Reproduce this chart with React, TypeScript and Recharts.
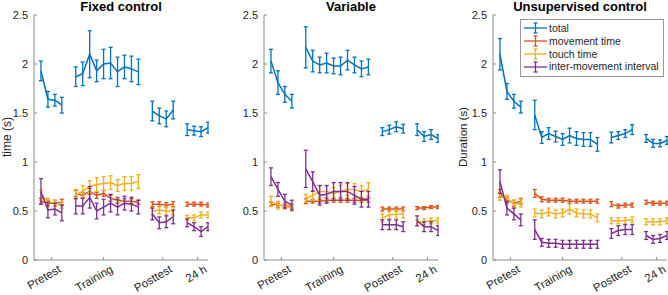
import { LineChart, Line, XAxis, YAxis, ErrorBar, Legend } from 'recharts';

// session positions on the x axis; the skipped slots (5, 16, 21) split the phases
const sessions = [1, 2, 3, 4, 6, 7, 8, 9, 10, 11, 12, 13, 14, 15, 17, 18, 19, 20, 22, 23, 24, 25];
const phaseTicks = [2.5, 10, 18.5, 23.5];
const phaseLabels = ['Pretest', 'Training', 'Posttest', '24 h'];
const yTicks = [0, 0.5, 1, 1.5, 2, 2.5];

const seriesNames = ['total', 'movement time', 'touch time', 'inter-movement interval'];
const seriesColors = ['#0072BD', '#D95319', '#EDB120', '#7E2F8E'];

// Fixed control
const fixedTotal = [1.93, 1.64, 1.63, 1.58, 1.87, 1.9, 2.1, 1.93, 2.0, 2.01, 1.92, 1.97, 1.95, 1.92, 1.52, 1.47, 1.44, 1.53, 1.33, 1.32, 1.31, 1.35];
const fixedTotalErr = [0.1, 0.08, 0.06, 0.08, 0.1, 0.12, 0.24, 0.11, 0.15, 0.16, 0.15, 0.12, 0.13, 0.13, 0.1, 0.08, 0.08, 0.09, 0.06, 0.045, 0.05, 0.055];
const fixedMove = [0.6, 0.58, 0.58, 0.59, 0.68, 0.66, 0.7, 0.66, 0.68, 0.63, 0.61, 0.6, 0.6, 0.59, 0.57, 0.57, 0.56, 0.57, 0.57, 0.57, 0.57, 0.56];
const fixedMoveErr = [0.03, 0.03, 0.03, 0.03, 0.03, 0.03, 0.03, 0.03, 0.03, 0.03, 0.03, 0.025, 0.025, 0.02, 0.025, 0.025, 0.025, 0.025, 0.02, 0.02, 0.02, 0.02];
const fixedTouch = [0.66, 0.6, 0.58, 0.56, 0.67, 0.7, 0.75, 0.77, 0.78, 0.79, 0.76, 0.78, 0.78, 0.8, 0.5, 0.51, 0.5, 0.5, 0.43, 0.43, 0.46, 0.46];
const fixedTouchErr = [0.05, 0.03, 0.03, 0.03, 0.05, 0.06, 0.06, 0.07, 0.07, 0.07, 0.06, 0.07, 0.07, 0.07, 0.04, 0.04, 0.04, 0.04, 0.025, 0.03, 0.03, 0.03];
const fixedImi = [0.7, 0.51, 0.52, 0.48, 0.55, 0.55, 0.64, 0.5, 0.54, 0.58, 0.54, 0.58, 0.57, 0.54, 0.47, 0.38, 0.39, 0.44, 0.38, 0.34, 0.29, 0.34];
const fixedImiErr = [0.13, 0.08, 0.06, 0.08, 0.08, 0.08, 0.11, 0.08, 0.08, 0.09, 0.08, 0.07, 0.07, 0.07, 0.06, 0.06, 0.06, 0.07, 0.04, 0.04, 0.05, 0.04];

// Variable
const varTotal = [2.03, 1.81, 1.69, 1.62, 2.17, 2.03, 1.99, 2.01, 1.98, 1.98, 2.04, 1.99, 1.95, 1.97, 1.31, 1.33, 1.36, 1.34, 1.33, 1.26, 1.28, 1.24];
const varTotalErr = [0.12, 0.12, 0.08, 0.07, 0.21, 0.11, 0.08, 0.1, 0.08, 0.09, 0.1, 0.08, 0.08, 0.08, 0.04, 0.045, 0.05, 0.045, 0.06, 0.05, 0.05, 0.04];
const varMove = [0.57, 0.56, 0.55, 0.55, 0.6, 0.6, 0.6, 0.61, 0.61, 0.61, 0.61, 0.61, 0.61, 0.61, 0.52, 0.52, 0.52, 0.52, 0.53, 0.53, 0.54, 0.54];
const varMoveErr = [0.02, 0.02, 0.02, 0.02, 0.025, 0.02, 0.02, 0.02, 0.02, 0.02, 0.02, 0.02, 0.02, 0.02, 0.02, 0.02, 0.02, 0.02, 0.015, 0.015, 0.015, 0.015];
const varTouch = [0.6, 0.56, 0.55, 0.53, 0.63, 0.66, 0.7, 0.7, 0.68, 0.7, 0.72, 0.72, 0.7, 0.72, 0.43, 0.46, 0.47, 0.47, 0.38, 0.39, 0.4, 0.4];
const varTouchErr = [0.05, 0.04, 0.03, 0.03, 0.04, 0.05, 0.06, 0.06, 0.06, 0.06, 0.06, 0.06, 0.06, 0.07, 0.04, 0.04, 0.04, 0.04, 0.03, 0.03, 0.03, 0.03];
const varImi = [0.85, 0.72, 0.6, 0.56, 0.93, 0.8, 0.66, 0.67, 0.7, 0.7, 0.7, 0.66, 0.62, 0.62, 0.36, 0.36, 0.36, 0.34, 0.4, 0.34, 0.34, 0.3];
const varImiErr = [0.09, 0.07, 0.07, 0.05, 0.19, 0.1, 0.1, 0.09, 0.09, 0.09, 0.09, 0.09, 0.08, 0.08, 0.05, 0.05, 0.05, 0.05, 0.05, 0.05, 0.05, 0.05];

// Unsupervised control
const unsTotal = [2.1, 1.72, 1.62, 1.56, 1.48, 1.25, 1.29, 1.26, 1.23, 1.27, 1.24, 1.23, 1.23, 1.18, 1.25, 1.27, 1.29, 1.33, 1.24, 1.19, 1.19, 1.22];
const unsTotalErr = [0.16, 0.08, 0.07, 0.06, 0.15, 0.06, 0.06, 0.055, 0.06, 0.075, 0.07, 0.07, 0.07, 0.07, 0.055, 0.04, 0.04, 0.05, 0.04, 0.04, 0.035, 0.04];
const unsMove = [0.68, 0.61, 0.58, 0.6, 0.68, 0.62, 0.61, 0.61, 0.61, 0.6, 0.6, 0.6, 0.6, 0.6, 0.57, 0.55, 0.56, 0.56, 0.59, 0.58, 0.58, 0.58];
const unsMoveErr = [0.04, 0.03, 0.03, 0.03, 0.04, 0.025, 0.02, 0.02, 0.02, 0.02, 0.02, 0.02, 0.02, 0.02, 0.025, 0.02, 0.02, 0.02, 0.02, 0.02, 0.02, 0.02];
const unsTouch = [0.65, 0.63, 0.57, 0.58, 0.48, 0.47, 0.49, 0.47, 0.48, 0.52, 0.48, 0.47, 0.47, 0.43, 0.4, 0.4, 0.4, 0.41, 0.39, 0.39, 0.39, 0.4];
const unsTouchErr = [0.04, 0.03, 0.04, 0.04, 0.04, 0.04, 0.04, 0.04, 0.04, 0.05, 0.04, 0.04, 0.04, 0.04, 0.03, 0.03, 0.03, 0.03, 0.03, 0.03, 0.03, 0.03];
const unsImi = [0.8, 0.53, 0.47, 0.41, 0.31, 0.18, 0.17, 0.17, 0.16, 0.16, 0.16, 0.16, 0.16, 0.16, 0.27, 0.3, 0.31, 0.31, 0.25, 0.21, 0.22, 0.25];
const unsImiErr = [0.12, 0.07, 0.06, 0.06, 0.1, 0.04, 0.04, 0.04, 0.04, 0.04, 0.04, 0.04, 0.04, 0.04, 0.05, 0.05, 0.05, 0.05, 0.04, 0.04, 0.04, 0.04];

const FONT = '"Liberation Sans", Arial, sans-serif';
const AXIS = '#8c8c8c';

function buildRows(means: number[][], errs: number[][]) {
  const rows = [];
  for (let x = 1; x <= 25; x++) {
    const i = sessions.indexOf(x);
    const row: Record<string, number | null> = { x };
    means.forEach((m, k) => {
      row['m' + k] = i < 0 ? null : m[i];
      row['e' + k] = i < 0 ? null : errs[k][i];
    });
    rows.push(row);
  }
  return rows;
}

function PhaseTick({ x, y, payload }: any) {
  const label = phaseLabels[phaseTicks.indexOf(payload.value)];
  return (
    <text
      x={x + 6}
      y={y}
      dy="0.75em"
      textAnchor="end"
      transform={`rotate(-30 ${x + 6} ${y})`}
      fontSize={11.5}
      fill="#262626"
      fontFamily={FONT}
    >
      {label}
    </text>
  );
}

function LegendBox() {
  return (
    <div
      style={{
        border: '1px solid #9a9a9a',
        background: '#fff',
        width: 137,
        padding: '2px 2px 3px 3px',
        fontFamily: FONT,
        fontSize: 10.5,
        color: '#262626',
        lineHeight: '12.8px',
      }}
    >
      {seriesNames.map((name, i) => (
        <div key={name} style={{ display: 'flex', alignItems: 'center', height: 12.8 }}>
          <svg width={24} height={12} style={{ flex: 'none' }}>
            <g stroke={seriesColors[i]} strokeWidth={1.3}>
              <line x1={0} x2={23} y1={6} y2={6} />
              <line x1={11.5} x2={11.5} y1={1} y2={11} />
              <line x1={9.5} x2={13.5} y1={1} y2={1} />
              <line x1={9.5} x2={13.5} y1={11} y2={11} />
            </g>
          </svg>
          <span style={{ marginLeft: 1, whiteSpace: 'nowrap' }}>{name}</span>
        </div>
      ))}
    </div>
  );
}

interface PanelProps {
  plotLeft: number;
  means: number[][];
  errs: number[][];
  legend?: boolean;
}

function Panel({ plotLeft, means, errs, legend }: PanelProps) {
  const rows = buildRows(means, errs);
  return (
    <div style={{ position: 'absolute', left: plotLeft - 34, top: 0 }}>
      <LineChart width={209} height={295} data={rows} margin={{ top: 15, right: 1, bottom: 5, left: 0 }}>
        <XAxis
          dataKey="x"
          type="number"
          domain={[0, 25]}
          ticks={phaseTicks}
          interval={0}
          height={30}
          tickSize={-3}
          tickMargin={7}
          tick={<PhaseTick />}
          stroke={AXIS}
        />
        <YAxis
          type="number"
          domain={[0, 2.5]}
          ticks={yTicks}
          interval={0}
          width={34}
          tickSize={-3}
          tickMargin={9}
          stroke={AXIS}
          tick={{ fill: '#262626', fontSize: 11, fontFamily: FONT }}
        />
        {means.map((_, k) => (
          <Line
            key={k}
            dataKey={'m' + k}
            type="linear"
            stroke={seriesColors[k]}
            strokeWidth={1.5}
            dot={false}
            activeDot={false}
            isAnimationActive={false}
          >
            <ErrorBar dataKey={'e' + k} width={2} stroke={seriesColors[k]} strokeWidth={1.3} direction="y" />
          </Line>
        ))}
        {legend && (
          <Legend
            layout="vertical"
            align="center"
            verticalAlign="middle"
            content={<LegendBox />}
            wrapperStyle={{ left: 520 - (plotLeft - 34), top: 19, width: 143 }}
          />
        )}
      </LineChart>
    </div>
  );
}

const panelLefts = [34, 264, 493];
const panelTitles = ['Fixed control', 'Variable', 'Unsupervised control'];

export default function App() {
  return (
    <div style={{ position: 'absolute', left: 0, top: 0, width: 668, height: 295, overflow: 'hidden', background: '#fff' }}>
      <Panel
        plotLeft={panelLefts[0]}
        means={[fixedTotal, fixedMove, fixedTouch, fixedImi]}
        errs={[fixedTotalErr, fixedMoveErr, fixedTouchErr, fixedImiErr]}
      />
      <Panel
        plotLeft={panelLefts[1]}
        means={[varTotal, varMove, varTouch, varImi]}
        errs={[varTotalErr, varMoveErr, varTouchErr, varImiErr]}
      />
      <Panel
        plotLeft={panelLefts[2]}
        means={[unsTotal, unsMove, unsTouch, unsImi]}
        errs={[unsTotalErr, unsMoveErr, unsTouchErr, unsImiErr]}
        legend
      />
      <svg width={668} height={295} style={{ position: 'absolute', left: 0, top: 0, pointerEvents: 'none' }}>
        {panelTitles.map((t, i) => (
          <text key={t} x={panelLefts[i] + 87} y={11} textAnchor="middle" fontFamily={FONT} fontWeight="bold" fontSize={13} fill="#000">
            {t}
          </text>
        ))}
        <text x={11} y={137} transform="rotate(-90 11 137)" textAnchor="middle" fontFamily={FONT} fontSize={12} fill="#262626">
          time (s)
        </text>
        <text x={467} y={137} transform="rotate(-90 467 137)" textAnchor="middle" fontFamily={FONT} fontSize={11.5} fill="#262626">
          Duration (s)
        </text>
      </svg>
    </div>
  );
}
